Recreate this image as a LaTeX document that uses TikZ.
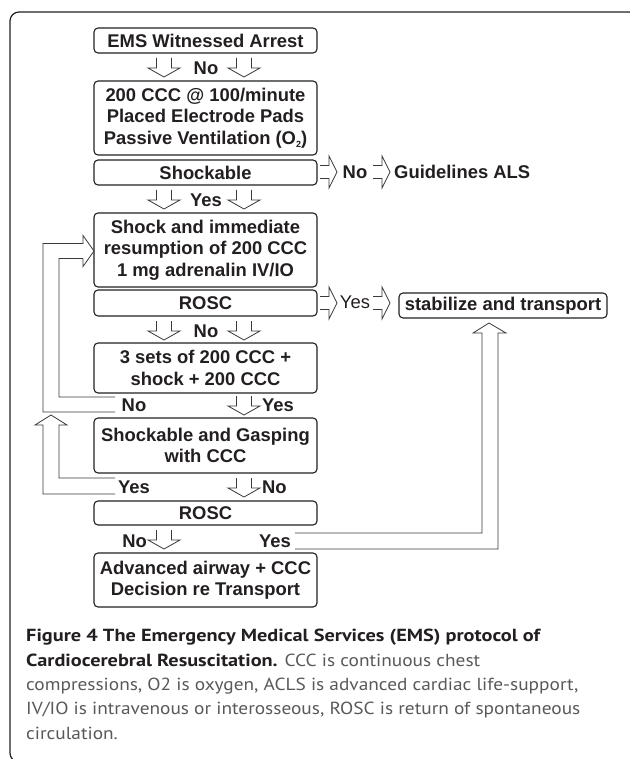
\documentclass[tikz,border=0pt]{standalone}
\usepackage{fontspec}
\setmainfont{Liberation Sans}
\newfontfamily\capfont[FakeStretch=1.105]{PT Sans}
\newfontfamily\capbold[FakeStretch=1.16]{PT Sans}
\definecolor{ink}{HTML}{231F20}
\definecolor{capgray}{HTML}{58595B}
\definecolor{linegray}{HTML}{3A3A3A}
\begin{document}
\begin{tikzpicture}[x=1pt,y=-1pt,
 box/.style={draw=ink,line width=1.1pt,rounded corners=4pt,minimum width=223pt,inner sep=0pt,align=center,font=\bfseries\fontsize{18.4}{21.5}\selectfont,text=ink},
 lbl/.style={inner sep=0pt,font=\bfseries\fontsize{18.4}{21.5}\selectfont,text=ink},
 lblreg/.style={inner sep=0pt,font=\fontsize{18.4}{21.5}\selectfont,text=ink},
 hollow/.style={draw=linegray,line width=0.8pt,line join=miter},
 captxt/.style={anchor=base west,inner sep=0pt,font=\capfont\fontsize{17.5}{24}\selectfont,text=capgray},
 hdown/.pic={\draw[hollow] (-7.5,0) -- (-7.5,10) -- (-16,10) -- (0,19) -- (16,10) -- (7.5,10) -- (7.5,0);},
 hright/.pic={\draw[hollow] (0,-6.5) -- (9,-6.5) -- (9,-16) -- (17,0) -- (9,16) -- (9,6.5) -- (0,6.5);}
]
\fill[white] (0,0) rectangle (629,759);
\useasboundingbox (0,0) rectangle (629,759);
% outer frame
\draw[ink,line width=1.2pt,rounded corners=9pt] (638,30) -- (638,12) -- (10,12) -- (10,762) -- (30,762);
% boxes
\node[box,minimum height=25pt] (ems) at (205.5,40.5) {EMS Witnessed Arrest};
\node[box,minimum height=74pt] (ccc) at (205.5,118) {200 CCC @ 100/minute\\Placed Electrode Pads\\Passive Ventilation (O\raisebox{-3pt}{\fontsize{9}{9}\selectfont 2})};
\node[box,minimum height=25pt] (shk) at (205.5,172.5) {Shockable};
\node[box,minimum height=74pt] (shock) at (205.5,250) {Shock and immediate\\resumption of 200 CCC\\1 mg adrenalin IV/IO};
\node[box,minimum height=26pt] (rosc1) at (205.5,303) {ROSC};
\node[box,minimum height=50pt] (sets) at (205.5,368) {3 sets of 200 CCC +\\shock + 200 CCC};
\node[box,minimum height=55pt] (gasp) at (205.5,445.5) {Shockable and Gasping\\with CCC};
\node[box,minimum height=24pt] (rosc2) at (205.5,513) {ROSC};
\node[box,minimum height=54pt] (adv) at (205.5,580) {Advanced airway + CCC\\Decision re Transport};
\node[box,minimum width=208pt,minimum height=25pt] (stab) at (503,305.5) {stabilize and transport};
% down arrows
\pic at (164,58) {hdown}; \pic at (244,58) {hdown};
\node[lbl] (no1) at (206,68) {No};
\pic at (164,190) {hdown}; \pic at (244,190) {hdown};
\node[lbl] (yes1) at (206,200) {Yes};
\pic at (164,321) {hdown}; \pic at (244,321) {hdown};
\node[lbl] (no2) at (206,331) {No};
\pic at (244,396) {hdown};
\node[lbl] (no3) at (134,405) {No};
\node[lbl,anchor=west] (yes2) at (262,405) {Yes};
\pic at (244,478) {hdown};
\node[lbl] (yes3) at (134,487) {Yes};
\node[lbl,anchor=west] (no4) at (262,487) {No};
\pic at (164,530) {hdown};
\node[lbl,anchor=east] (no5) at (147,541) {No};
\node[lbl,anchor=east] (yes4) at (291,541) {Yes};
% right arrows
\pic at (320,172) {hright}; \pic at (373,172) {hright};
\node[lbl] (no6) at (355,172) {No};
\node[lbl,anchor=west] (als) at (394,172) {Guidelines ALS};
\pic at (320,303) {hright}; \pic at (373,303) {hright};
\node[lblreg] (yes5) at (355,302) {Yes};
% loops
\coordinate (la) at (115,412); \coordinate (lb) at (115,397);
\draw[hollow] (la) -- (43,412) -- (43,243.5) -- (83,243.5) -- (83,235.5) -- (94,251) -- (83,266.5) -- (83,258.5) -- (59,258.5) -- (59,397) -- (lb);
\coordinate (lc) at (115,494); \coordinate (ld) at (115,478);
\draw[hollow] (lc) -- (43,494) -- (43,425) -- (35,425) -- (51,415) -- (67,425) -- (59,425) -- (59,478) -- (ld);
\coordinate (ra) at (295,533); \coordinate (rb) at (295,549);
\draw[hollow] (ra) -- (482,533) -- (482,333) -- (473,333) -- (489,323) -- (506,333) -- (498,333) -- (498,549) -- (rb);
% caption
\node[captxt,text=ink] (c1) at (26,641) {\capbold\bfseries Figure 4 The Emergency Medical Services (EMS) protocol of};
\node[captxt] (c2) at (26,666) {\textcolor{ink}{\capbold\bfseries Cardiocerebral Resuscitation.} CCC is continuous chest};
\node[captxt] (c3) at (26,690) {compressions, O2 is oxygen, ACLS is advanced cardiac life-support,};
\node[captxt] (c4) at (26,714) {IV/IO is intravenous or interosseous, ROSC is return of spontaneous};
\node[captxt] (c5) at (26,739) {circulation.};
\end{tikzpicture}
\end{document}
